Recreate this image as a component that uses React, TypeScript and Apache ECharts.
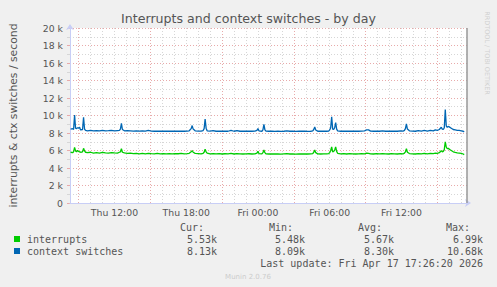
import React, { useEffect, useRef } from 'react';
import * as echarts from 'echarts';

// Time of each sample, minutes since Thu 00:00
const minutes = [
  500, 510, 515, 520, 525, 530, 535, 540, 545, 550, 560, 565, 570, 575, 585, 600, 615, 630, 645, 660,
  675, 690, 705, 720, 735, 745, 750, 755, 760, 770, 785, 800, 815, 830, 845, 860, 875, 890, 905, 920,
  935, 950, 965, 980, 995, 1010, 1025, 1040, 1055, 1070, 1085, 1095, 1105, 1110, 1115, 1125, 1140, 1155, 1165, 1170,
  1175, 1180, 1185, 1200, 1215, 1230, 1245, 1260, 1275, 1290, 1305, 1320, 1335, 1350, 1365, 1380, 1395, 1410, 1425, 1435,
  1440, 1445, 1460, 1465, 1470, 1475, 1480, 1495, 1510, 1525, 1540, 1555, 1570, 1585, 1600, 1615, 1630, 1645, 1660, 1675,
  1690, 1705, 1715, 1720, 1725, 1730, 1740, 1755, 1770, 1785, 1795, 1800, 1805, 1810, 1815, 1820, 1825, 1830, 1835, 1840,
  1855, 1870, 1885, 1900, 1915, 1930, 1945, 1960, 1975, 1985, 1995, 2005, 2020, 2035, 2050, 2065, 2080, 2095, 2110, 2125,
  2140, 2155, 2170, 2175, 2180, 2185, 2190, 2200, 2215, 2230, 2245, 2260, 2275, 2290, 2305, 2320, 2330, 2340, 2350, 2360,
  2365, 2370, 2375, 2380, 2385, 2390, 2395, 2400, 2410, 2420, 2430, 2440, 2450, 2460, 2470, 2475,
];

// interrupts / second, in thousands
const interrupts = [
  5.80, 5.75, 5.85, 6.35, 5.95, 5.85, 6.00, 5.90, 5.85, 5.80, 5.85, 6.25, 5.95, 5.80, 5.75, 5.80, 5.70, 5.75, 5.70, 5.78,
  5.72, 5.70, 5.75, 5.72, 5.70, 5.80, 5.85, 6.20, 5.80, 5.72, 5.68, 5.70, 5.65, 5.68, 5.62, 5.66, 5.62, 5.68, 5.64, 5.62,
  5.66, 5.62, 5.65, 5.62, 5.64, 5.62, 5.65, 5.63, 5.66, 5.62, 5.65, 5.68, 5.85, 5.98, 5.80, 5.68, 5.65, 5.62, 5.68, 5.80,
  6.15, 5.85, 5.70, 5.62, 5.65, 5.62, 5.65, 5.60, 5.63, 5.62, 5.66, 5.60, 5.65, 5.62, 5.60, 5.62, 5.63, 5.60, 5.62, 5.70,
  5.90, 5.65, 5.62, 5.75, 6.05, 5.75, 5.62, 5.60, 5.62, 5.60, 5.62, 5.58, 5.62, 5.64, 5.60, 5.62, 5.58, 5.62, 5.60, 5.62,
  5.60, 5.62, 5.65, 5.80, 6.05, 5.75, 5.62, 5.60, 5.62, 5.62, 5.65, 5.75, 6.00, 6.40, 5.85, 5.90, 6.05, 6.40, 5.90, 5.68,
  5.62, 5.65, 5.60, 5.64, 5.62, 5.60, 5.62, 5.64, 5.62, 5.70, 5.68, 5.62, 5.60, 5.64, 5.62, 5.65, 5.62, 5.60, 5.64, 5.62,
  5.60, 5.65, 5.62, 5.70, 5.85, 6.20, 5.80, 5.65, 5.62, 5.60, 5.64, 5.62, 5.68, 5.62, 5.66, 5.64, 5.70, 5.68, 5.75, 5.98,
  5.85, 5.90, 6.10, 6.99, 6.40, 6.20, 6.25, 6.15, 6.00, 5.85, 5.78, 5.72, 5.70, 5.68, 5.60, 5.53,
];

// context switches / second, in thousands
const contextSwitches = [
  8.45, 8.50, 8.40, 10.05, 8.55, 8.50, 8.60, 8.55, 8.65, 8.35, 8.40, 9.80, 8.45, 8.30, 8.25, 8.30, 8.25, 8.28, 8.25, 8.30,
  8.25, 8.27, 8.30, 8.25, 8.28, 8.30, 8.45, 9.10, 8.40, 8.25, 8.27, 8.25, 8.22, 8.25, 8.22, 8.25, 8.22, 8.30, 8.22, 8.20,
  8.22, 8.20, 8.22, 8.20, 8.22, 8.20, 8.22, 8.20, 8.22, 8.20, 8.22, 8.25, 8.50, 8.85, 8.45, 8.25, 8.22, 8.22, 8.28, 8.50,
  9.60, 8.55, 8.25, 8.22, 8.28, 8.20, 8.22, 8.20, 8.22, 8.20, 8.30, 8.20, 8.28, 8.20, 8.22, 8.20, 8.22, 8.20, 8.22, 8.30,
  8.50, 8.25, 8.20, 8.35, 9.00, 8.35, 8.22, 8.20, 8.22, 8.18, 8.20, 8.18, 8.20, 8.25, 8.20, 8.22, 8.18, 8.20, 8.22, 8.20,
  8.18, 8.20, 8.25, 8.40, 8.70, 8.35, 8.20, 8.20, 8.22, 8.20, 8.22, 8.35, 8.60, 9.85, 8.45, 8.40, 8.60, 9.20, 8.45, 8.25,
  8.20, 8.22, 8.20, 8.22, 8.20, 8.22, 8.20, 8.22, 8.25, 8.35, 8.35, 8.22, 8.20, 8.22, 8.20, 8.24, 8.20, 8.22, 8.20, 8.22,
  8.20, 8.25, 8.22, 8.30, 8.50, 9.05, 8.45, 8.25, 8.22, 8.20, 8.28, 8.22, 8.30, 8.22, 8.30, 8.25, 8.35, 8.30, 8.40, 8.65,
  8.45, 8.40, 8.60, 10.68, 8.80, 8.65, 8.75, 8.70, 8.55, 8.40, 8.35, 8.30, 8.30, 8.25, 8.20, 8.13,
];

const seriesNames = ['interrupts', 'context switches'];
const seriesColors = ['#00CC00', '#0066B3'];
const dayNames = ['Thu', 'Fri'];
const statHeaders = ['Cur:', 'Min:', 'Avg:', 'Max:'];
const interruptStats = ['5.53k', '5.48k', '5.67k', '6.99k'];
const contextStats = ['8.13k', '8.09k', '8.30k', '10.68k'];
const lastUpdate = 'Last update: Fri Apr 17 17:26:20 2026';
const nowMinute = 2486;
const xMin = 497;
const xMax = 2489;
const yMax = 20;
const yStep = 2;

const FONT = '"DejaVu Sans", sans-serif';
const MONO = '"DejaVu Sans Mono", monospace';
const TEXT = '#555555';
const GRID_MINOR = '#D6D6D6';
const GRID_MAJOR = '#E8AAAA';
const AXIS = '#C8CEF6';

function pad(n: number) {
  return n < 10 ? '0' + n : '' + n;
}

export default function App() {
  const ref = useRef<HTMLDivElement>(null);

  useEffect(() => {
    if (!ref.current) return;
    const chart = echarts.init(ref.current, null, { renderer: 'svg' });

    const statCols = [204, 293, 382, 470];
    const valCols = [217, 305, 394, 483];
    const graphics: any[] = [];
    statHeaders.forEach((h, i) => {
      graphics.push({
        type: 'text',
        x: statCols[i],
        y: 227,
        style: { text: h, font: `10px ${MONO}`, fill: TEXT, textAlign: 'right', align: 'right', textVerticalAlign: 'middle', verticalAlign: 'middle' },
      });
    });
    [interruptStats, contextStats].forEach((row, r) => {
      row.forEach((v, i) => {
        graphics.push({
          type: 'text',
          x: valCols[i],
          y: 239 + r * 12,
          style: { text: v, font: `10px ${MONO}`, fill: TEXT, textAlign: 'right', align: 'right', textVerticalAlign: 'middle', verticalAlign: 'middle' },
        });
      });
    });
    graphics.push({
      type: 'text',
      x: 483,
      y: 263,
      style: { text: lastUpdate, font: `10px ${MONO}`, fill: TEXT, textAlign: 'right', align: 'right', textVerticalAlign: 'middle', verticalAlign: 'middle' },
    });
    graphics.push({
      type: 'text',
      x: 248,
      y: 277,
      style: { text: 'Munin 2.0.76', font: `7px ${FONT}`, fill: '#CCCCCC', textAlign: 'center', align: 'center', textVerticalAlign: 'middle', verticalAlign: 'middle' },
    });
    graphics.push({
      type: 'text',
      x: 487,
      y: 53,
      rotation: -Math.PI / 2,
      style: { text: 'RRDTOOL / TOBI OETIKER', font: `6.5px ${FONT}`, fill: '#D0D0D0', textAlign: 'center', align: 'center', textVerticalAlign: 'middle', verticalAlign: 'middle' },
    });

    const option: any = {
      animation: false,
      backgroundColor: '#F0F0F0',
      title: {
        text: 'Interrupts and context switches - by day',
        left: 'center',
        top: 12,
        padding: 0,
        textStyle: { fontFamily: FONT, fontSize: 12.6, fontWeight: 'normal', color: TEXT },
      },
      legend: {
        orient: 'vertical',
        left: 14,
        top: 233,
        itemWidth: 6,
        itemHeight: 6,
        itemGap: 0,
        icon: 'rect',
        selectedMode: false,
        padding: 0,
        data: seriesNames,
        textStyle: { fontFamily: MONO, fontSize: 10, color: TEXT, lineHeight: 12, padding: [0, 0, 0, 2] },
      },
      grid: { left: 67, top: 28, width: 400, height: 175, show: true, backgroundColor: '#FFFFFF', borderWidth: 0 },
      xAxis: [
        {
          type: 'value',
          min: xMin,
          max: xMax,
          minInterval: 360,
          maxInterval: 360,
          axisLine: {
            show: true,
            lineStyle: { color: AXIS, width: 1 },
            symbol: ['none', 'arrow'],
            symbolSize: [6, 6],
            symbolOffset: [0, 4],
          },
          axisTick: { show: false },
          axisLabel: {
            showMinLabel: false,
            showMaxLabel: false,
            margin: 5,
            color: TEXT,
            fontFamily: FONT,
            fontSize: 9.3,
            formatter: (v: number) => {
              const d = Math.floor(v / 1440);
              const h = Math.round((v % 1440) / 60);
              return `${dayNames[d]} ${pad(h)}:00`;
            },
          },
          splitLine: { show: true, showMinLine: false, showMaxLine: false, lineStyle: { color: GRID_MINOR, type: [1, 2], width: 1 } },
          minorTick: { show: false, splitNumber: 6 },
          minorSplitLine: { show: true, lineStyle: { color: GRID_MINOR, type: [1, 2], width: 1 } },
          z: 1,
        },
        {
          type: 'value',
          min: xMin - 180,
          max: xMax - 180,
          minInterval: 360,
          maxInterval: 360,
          axisLine: { show: false },
          axisTick: { show: false },
          axisLabel: { show: false },
          splitLine: { show: true, showMinLine: false, showMaxLine: false, lineStyle: { color: GRID_MAJOR, type: [1, 2], width: 1 } },
          z: 2,
        },
      ],
      yAxis: {
        type: 'value',
        min: 0,
        max: yMax,
        interval: yStep,
        name: 'interrupts & ctx switches / second',
        nameLocation: 'middle',
        nameGap: 51,
        nameTextStyle: { fontFamily: FONT, fontSize: 10.8, color: TEXT },
        axisLine: {
          show: true,
          lineStyle: { color: AXIS, width: 1 },
          symbol: ['none', 'arrow'],
          symbolSize: [6, 6],
          symbolOffset: [0, 4],
        },
        axisTick: { show: true, length: 3, lineStyle: { color: GRID_MAJOR } },
        minorTick: { show: true, splitNumber: 2, length: 3, lineStyle: { color: GRID_MINOR } },
        axisLabel: {
          margin: 7,
          color: TEXT,
          fontFamily: FONT,
          fontSize: 9.3,
          formatter: (v: number) => (v === 0 ? '0' : `${v} k`),
        },
        splitLine: { show: true, lineStyle: { color: GRID_MAJOR, type: [1, 2], width: 1 } },
        minorSplitLine: { show: true, lineStyle: { color: GRID_MINOR, type: [1, 2], width: 1 } },
      },
      series: [
        {
          name: seriesNames[0],
          type: 'line',
          xAxisIndex: 0,
          showSymbol: false,
          symbol: 'none',
          color: seriesColors[0],
          itemStyle: { color: seriesColors[0] },
          lineStyle: { color: seriesColors[0], width: 1.3 },
          data: minutes.map((m, i) => [m, interrupts[i]]),
          z: 3,
        },
        {
          name: seriesNames[1],
          type: 'line',
          xAxisIndex: 0,
          showSymbol: false,
          symbol: 'none',
          color: seriesColors[1],
          itemStyle: { color: seriesColors[1] },
          lineStyle: { color: seriesColors[1], width: 1.3 },
          data: minutes.map((m, i) => [m, contextSwitches[i]]),
          markLine: {
            silent: true,
            symbol: ['none', 'none'],
            label: { show: false },
            lineStyle: { color: '#999999', width: 1.5, type: 'solid' },
            data: [{ xAxis: nowMinute }],
          },
          z: 3,
        },
      ],
      graphic: graphics,
    };

    chart.setOption(option);
    return () => chart.dispose();
  }, []);

  return (
    <div
      ref={ref}
      style={{ position: 'fixed', left: 0, top: 0, width: 497, height: 287, background: '#F0F0F0' }}
    />
  );
}
